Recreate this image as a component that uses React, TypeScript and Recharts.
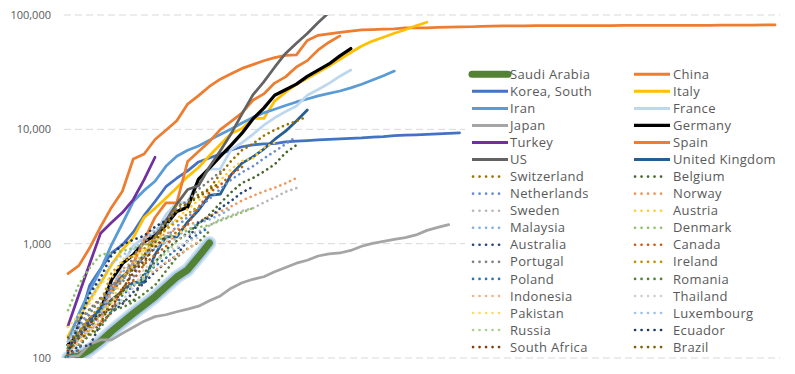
import { LineChart, Line, XAxis, YAxis, CartesianGrid, Legend } from 'recharts';

// confirmed cases, one value per day since the 100th case
const saudiArabia = [100, 104, 118, 140, 171, 205, 245, 290, 344, 420, 511, 590, 767, 1012];
const china = [548, 643, 920, 1406, 2075, 2877, 5509, 6087, 8141, 9802, 11891, 16630, 19716, 23707, 27440, 30587, 34110, 36814, 39829, 42354, 44386, 44759, 59895, 66358, 68413, 70513, 72434, 74211, 74619, 75077, 75550, 77001, 77022, 77241, 77754, 78166, 78600, 78928, 79356, 79932, 80136, 80261, 80386, 80537, 80690, 80770, 80823, 80860, 80887, 80921, 80932, 80945, 80977, 81003, 81033, 81058, 81102, 81156, 81250, 81305, 81435, 81498, 81591, 81661, 81782, 81897];
const korea = [104, 204, 433, 602, 833, 977, 1261, 1766, 2337, 3150, 3736, 4335, 5186, 5621, 6088, 6593, 7041, 7314, 7478, 7513, 7755, 7869, 7979, 8086, 8162, 8236, 8320, 8413, 8565, 8652, 8799, 8897, 8961, 9037, 9137, 9241, 9332];
const italy = [155, 229, 322, 453, 655, 888, 1128, 1694, 2036, 2502, 3089, 3858, 4636, 5883, 7375, 9172, 10149, 12462, 12462, 17660, 21157, 24747, 27980, 31506, 35713, 41035, 47021, 53578, 59138, 63927, 69176, 74386, 80589, 86498];
const iran = [139, 245, 388, 593, 978, 1501, 2336, 2922, 3513, 4747, 5823, 6566, 7161, 8042, 9000, 10075, 11364, 12729, 13938, 14991, 16169, 17361, 18407, 19644, 20610, 21638, 23049, 24811, 27017, 29406, 32332];
const france = [130, 191, 204, 288, 380, 656, 957, 1134, 1217, 1792, 2289, 2289, 3672, 4480, 4513, 6650, 7652, 9043, 10871, 12612, 14282, 16018, 19856, 22304, 25233, 29155, 33000];
const japan = [102, 105, 132, 144, 144, 164, 186, 210, 230, 239, 254, 268, 284, 317, 349, 408, 455, 488, 514, 568, 620, 675, 716, 780, 814, 829, 873, 950, 1007, 1046, 1089, 1128, 1193, 1307, 1387, 1468];
const germany = [130, 159, 196, 262, 482, 670, 799, 1040, 1176, 1457, 1908, 2078, 3675, 4585, 5795, 7272, 9257, 12327, 15320, 19848, 22213, 24873, 29056, 32986, 37323, 43938, 50871];
const turkey = [191, 359, 670, 1236, 1529, 1872, 2433, 3629, 5698];
const spain = [120, 165, 222, 259, 400, 500, 673, 1073, 1695, 2277, 2277, 5232, 6391, 7798, 9942, 11748, 13910, 17963, 20410, 25374, 28768, 35136, 39885, 49515, 57786, 65719];
const us = [122, 150, 220, 260, 420, 520, 600, 780, 1150, 1590, 2220, 2980, 3210, 4680, 6510, 9170, 13660, 20030, 26030, 34940, 46100, 56710, 68840, 86010, 105290];
const uk = [116, 164, 207, 274, 322, 384, 459, 459, 802, 1144, 1145, 1551, 1960, 2642, 2716, 4014, 5067, 5745, 6726, 8164, 9640, 11812, 14745];
const switzerland = [114, 214, 268, 337, 374, 491, 652, 652, 1139, 1359, 2200, 2200, 2700, 3028, 4075, 5294, 6575, 7474, 8795, 9877, 10897, 11811, 12928];
const belgium = [109, 169, 200, 239, 267, 314, 314, 559, 689, 886, 1058, 1243, 1486, 1795, 2257, 2815, 3401, 3743, 4269, 4937, 6235, 7284];
const netherlands = [128, 188, 265, 321, 382, 503, 503, 804, 959, 1135, 1413, 1705, 2051, 2460, 2994, 3631, 4204, 4749, 5560, 6412, 7431, 8647];
const norway = [108, 147, 176, 205, 400, 598, 702, 996, 1090, 1221, 1333, 1463, 1550, 1746, 1914, 2118, 2385, 2621, 2863, 3084, 3369, 3755];
const sweden = [101, 161, 203, 248, 355, 500, 599, 814, 961, 1022, 1103, 1190, 1279, 1439, 1639, 1763, 1934, 2046, 2286, 2526, 2840, 3069];
const austria = [104, 131, 182, 246, 302, 504, 655, 860, 1018, 1332, 1646, 2013, 2388, 2814, 3582, 4474, 5283, 5588, 6909, 7657];
const malaysia = [129, 149, 197, 238, 428, 566, 673, 790, 900, 1030, 1183, 1306, 1518, 1624, 1796, 2031];
const denmark = [262, 442, 615, 801, 827, 864, 914, 977, 1057, 1151, 1255, 1326, 1395, 1450, 1591, 1724, 1877, 2046];
const australia = [107, 128, 128, 200, 250, 297, 377, 452, 568, 681, 791, 1071, 1549, 1682, 2044, 2364, 2810, 3143];
const canada = [108, 117, 193, 198, 252, 415, 478, 657, 800, 943, 1277, 1469, 2088, 2790, 3251, 4042, 4682];
const portugal = [112, 169, 245, 331, 448, 448, 785, 1020, 1280, 1600, 2060, 2362, 2995, 3544, 4268];
const ireland = [129, 169, 223, 292, 557, 683, 785, 906, 1125, 1329, 1564, 1819, 2121];
const poland = [103, 119, 177, 238, 251, 355, 425, 536, 634, 749, 901, 1051, 1221, 1389];
const romania = [123, 131, 158, 184, 260, 277, 308, 367, 433, 576, 762, 906, 1029, 1292];
const indonesia = [117, 134, 172, 227, 311, 369, 450, 514, 579, 686, 790, 893, 1046];
const thailand = [114, 147, 177, 212, 272, 322, 411, 599, 721, 827, 934, 1045, 1136];
const pakistan = [187, 237, 301, 454, 501, 730, 776, 875, 972, 1063, 1201, 1373];
const luxembourg = [140, 203, 335, 484, 670, 798, 875, 1099, 1333, 1453, 1605];
const russia = [114, 147, 199, 253, 306, 367, 438, 495, 658, 840, 1036];
const ecuador = [111, 199, 367, 506, 789, 981, 1082, 1173, 1403, 1595, 1823];
const southAfrica = [116, 150, 202, 240, 274, 402, 554, 709, 927, 1170];
const brazil = [151, 151, 162, 200, 321, 372, 621, 793, 1021, 1546, 1924, 2247, 2554, 2985, 3417];

const yTicks = [100, 1000, 10000, 100000];

// legend order (row by row, two columns)
const series = [
  { name: 'Saudi Arabia', values: saudiArabia, color: '#548235', width: 7 },
  { name: 'China', values: china, color: '#ED7D31' },
  { name: 'Korea, South', values: korea, color: '#4472C4' },
  { name: 'Italy', values: italy, color: '#FFC000' },
  { name: 'Iran', values: iran, color: '#5B9BD5' },
  { name: 'France', values: france, color: '#BDD7EE' },
  { name: 'Japan', values: japan, color: '#A5A5A5' },
  { name: 'Germany', values: germany, color: '#000000', width: 3.25 },
  { name: 'Turkey', values: turkey, color: '#7030A0' },
  { name: 'Spain', values: spain, color: '#ED7D31' },
  { name: 'US', values: us, color: '#636363' },
  { name: 'United Kingdom', values: uk, color: '#255E91' },
  { name: 'Switzerland', values: switzerland, color: '#997300', dotted: true },
  { name: 'Belgium', values: belgium, color: '#43682B', dotted: true },
  { name: 'Netherlands', values: netherlands, color: '#698ED0', dotted: true },
  { name: 'Norway', values: norway, color: '#F1975A', dotted: true },
  { name: 'Sweden', values: sweden, color: '#B7B7B7', dotted: true },
  { name: 'Austria', values: austria, color: '#FFCD33', dotted: true },
  { name: 'Malaysia', values: malaysia, color: '#7CAFDD', dotted: true },
  { name: 'Denmark', values: denmark, color: '#8CC168', dotted: true },
  { name: 'Australia', values: australia, color: '#264478', dotted: true },
  { name: 'Canada', values: canada, color: '#C55A11', dotted: true },
  { name: 'Portugal', values: portugal, color: '#7F7F7F', dotted: true },
  { name: 'Ireland', values: ireland, color: '#BF9000', dotted: true },
  { name: 'Poland', values: poland, color: '#2E75B6', dotted: true },
  { name: 'Romania', values: romania, color: '#548235', dotted: true },
  { name: 'Indonesia', values: indonesia, color: '#F4B183', dotted: true },
  { name: 'Thailand', values: thailand, color: '#D0CECE', dotted: true },
  { name: 'Pakistan', values: pakistan, color: '#FFD966', dotted: true },
  { name: 'Luxembourg', values: luxembourg, color: '#9DC3E6', dotted: true },
  { name: 'Russia', values: russia, color: '#A9D18E', dotted: true },
  { name: 'Ecuador', values: ecuador, color: '#1F3864', dotted: true },
  { name: 'South Africa', values: southAfrica, color: '#843C0C', dotted: true },
  { name: 'Brazil', values: brazil, color: '#7F6000', dotted: true },
];

const dayCount = Math.max(...series.map(s => s.values.length));
const data = Array.from({ length: dayCount }, (_, day) => {
  const row: Record<string, number> = { day };
  series.forEach(s => {
    if (day < s.values.length) row[s.name] = s.values[day];
  });
  return row;
});

const FONT = '"Open Sans", "Liberation Sans", sans-serif';

function LegendBox() {
  const rowH = 17.05;
  return (
    <svg width={315} height={292} style={{ display: 'block' }}>
      {series.map((s, i) => {
        const col = i % 2;
        const row = Math.floor(i / 2);
        const y = 11.3 + row * rowH;
        const x0 = col === 0 ? 7 : 169;
        const tx = col === 0 ? 45 : 208;
        return (
          <g key={s.name}>
            {s.dotted ? (
              <line x1={x0 + 1} x2={x0 + 33} y1={y} y2={y} stroke={s.color} strokeWidth={2.6}
                strokeDasharray="0.1 6.4" strokeLinecap="round" />
            ) : (
              <line x1={x0} x2={x0 + 36} y1={y} y2={y} stroke={s.color}
                strokeWidth={s.width ? s.width : 3} strokeLinecap={s.width === 7 ? 'round' : 'butt'} />
            )}
            <text x={tx} y={y + 4.6} fontSize={13} fill="#595959" fontFamily={FONT} letterSpacing={0.35}>
              {s.name}
            </text>
          </g>
        );
      })}
    </svg>
  );
}

export default function App() {
  return (
    <div style={{ position: 'absolute', left: 0, top: 0, width: 795, height: 374, background: '#fff', fontFamily: FONT }}>
      <LineChart width={795} height={374} data={data} margin={{ top: 15, right: 15, bottom: 16, left: 0 }}>
        <CartesianGrid vertical={false} stroke="#D9D9D9" strokeDasharray="7 4" />
        <XAxis type="number" dataKey="day" domain={[-0.368, 65.46]} hide />
        <YAxis
          scale="log"
          domain={[100, 100000]}
          allowDataOverflow
          ticks={yTicks}
          width={64}
          axisLine={false}
          tickLine={false}
          tickMargin={7}
          tick={{ fill: '#595959', fontSize: 11, fontFamily: FONT }}
          tickFormatter={(v: number) => v.toLocaleString('en-US')}
        />
        <Legend
          layout="vertical"
          align="center"
          verticalAlign="middle"
          wrapperStyle={{ left: 465, top: 63, width: 315, height: 292, background: '#fff' }}
          content={() => <LegendBox />}
        />
        {/* soft glow under the Saudi Arabia line */}
        <Line type="linear" dataKey="Saudi Arabia" stroke="#BDD7EE" strokeOpacity={0.7} strokeWidth={14}
          strokeLinecap="round" strokeLinejoin="round" dot={false} activeDot={false} isAnimationActive={false} legendType="none" />
        <Line type="linear" dataKey="Saudi Arabia" stroke="#9DC3E6" strokeOpacity={0.8} strokeWidth={10.5}
          strokeLinecap="round" strokeLinejoin="round" dot={false} activeDot={false} isAnimationActive={false} legendType="none" />
        {series.map(s => (
          <Line
            key={s.name}
            type="linear"
            dataKey={s.name}
            stroke={s.color}
            strokeWidth={s.width ? s.width : s.dotted ? 2.6 : 2.75}
            strokeDasharray={s.dotted ? '0.1 5.2' : undefined}
            strokeLinecap="round"
            strokeLinejoin="round"
            dot={false}
            activeDot={false}
            isAnimationActive={false}
          />
        ))}
      </LineChart>
    </div>
  );
}
